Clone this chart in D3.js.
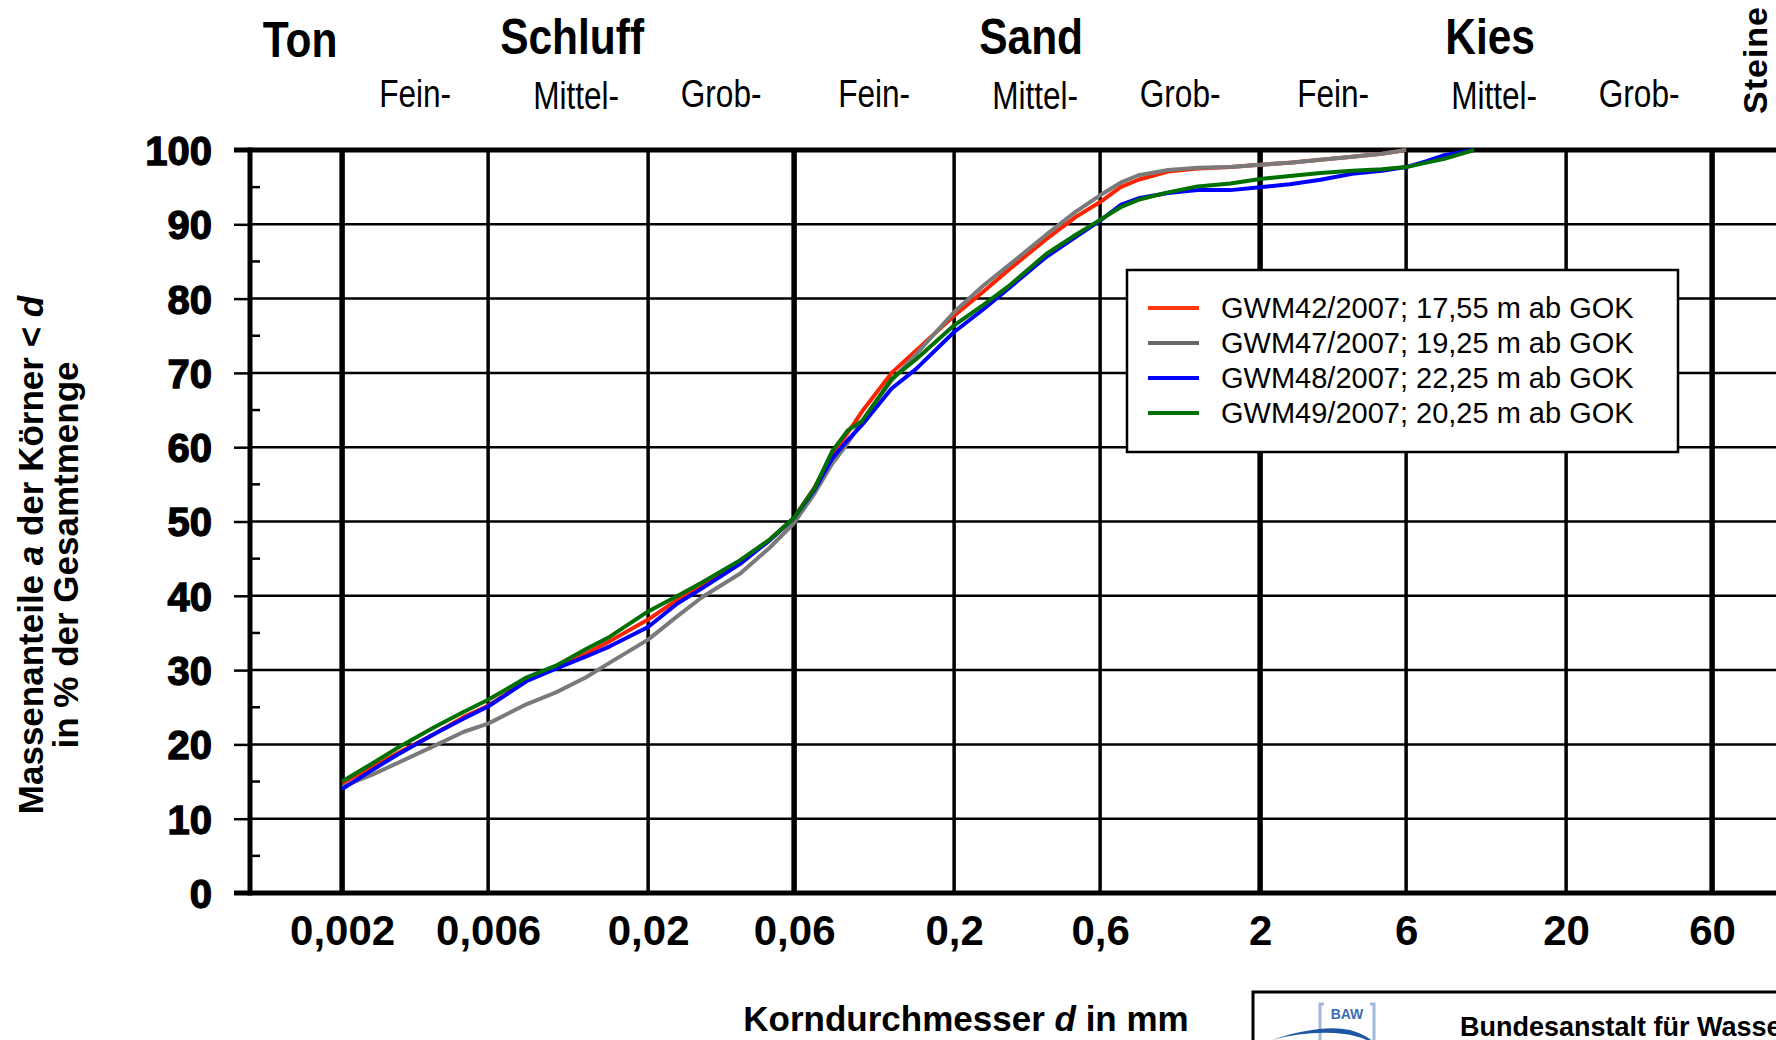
<!DOCTYPE html>
<html>
<head>
  <meta charset="utf-8">
  <script src="https://d3js.org/d3.v7.min.js"></script>
  <style>
    body { margin: 0; background: #fff; }
    svg { display: block; font-family: "Liberation Sans", Arial, sans-serif; }
  </style>
</head>
<body>
<div id="chart"></div>
<script>
// Korndurchmesser d in mm (shared sieve sizes)
const grainSizes = [0.002, 0.0025, 0.003, 0.004, 0.005, 0.006, 0.007, 0.008, 0.01, 0.0125, 0.015,
  0.02, 0.025, 0.03, 0.04, 0.05, 0.06, 0.07, 0.08, 0.09, 0.1, 0.125, 0.15, 0.2, 0.25, 0.3, 0.4,
  0.5, 0.6, 0.7, 0.8, 1, 1.25, 1.6, 2, 2.5, 3.15, 4, 5, 6, 7, 8, 10];

// Massenanteile in % per sample (null = no value)
const gwm42 = [14.8, 16.9, 18.7, 21.4, 23.7, 25.2, 27.0, 28.7, 30.4, 32.2, 33.9,
  36.8, 39.5, 41.4, 44.5, 47.5, 50.5, 54.6, 59.0, 62.0, 64.8, 70.0, 73.0, 77.7, 81.0, 83.8, 88.0,
  91.0, 93.0, 95.0, 96.0, 97.1, 97.5, 97.7, 98.0, 98.3, 98.7, 99.1, 99.5, 100, null, null, null];
const gwm47 = [14.3, 15.9, 17.4, 19.8, 21.7, 22.8, 24.2, 25.4, 27.0, 29.0, 31.0,
  34.1, 37.3, 39.8, 43.0, 46.5, 49.8, 53.8, 57.8, 60.6, 63.5, 69.0, 72.5, 78.2, 81.8, 84.4, 88.6,
  91.7, 93.9, 95.6, 96.6, 97.3, 97.6, 97.7, 98.0, 98.3, 98.7, 99.1, 99.5, 100, null, null, null];
const gwm48 = [14.0, 16.5, 18.5, 21.4, 23.5, 25.1, 26.9, 28.5, 30.2, 31.8, 33.2,
  35.8, 39.0, 41.0, 44.3, 47.5, 50.5, 54.3, 58.5, 61.0, 63.0, 67.9, 70.5, 75.5, 78.6, 81.3, 85.6,
  88.3, 90.5, 92.6, 93.5, 94.2, 94.6, 94.6, 95.0, 95.4, 96.0, 96.8, 97.2, 97.7, 98.5, 99.3, 100];
const gwm49 = [15.0, 17.4, 19.4, 22.3, 24.4, 26.0, 27.6, 29.0, 30.6, 32.8, 34.5,
  37.9, 40.0, 41.8, 44.8, 47.6, 50.5, 54.5, 59.5, 62.3, 63.5, 69.2, 71.8, 76.4, 79.2, 81.6, 86.0,
  88.6, 90.6, 92.3, 93.3, 94.3, 95.1, 95.5, 96.1, 96.5, 96.9, 97.2, 97.4, 97.7, 98.3, 98.8, 100];

const seriesNames = ["GWM42/2007; 17,55 m ab GOK", "GWM47/2007; 19,25 m ab GOK",
  "GWM48/2007; 22,25 m ab GOK", "GWM49/2007; 20,25 m ab GOK"];
const seriesValues = [gwm42, gwm47, gwm48, gwm49];
const seriesColors = ["#ff2200", "#7a7a7a", "#0000ff", "#007000"];
const legendColors = ["#ff3a10", "#686868", "#0000ff", "#007000"];

const xTickValues = [0.002, 0.006, 0.02, 0.06, 0.2, 0.6, 2, 6, 20, 60];
const xTickLabels = ["0,002", "0,006", "0,02", "0,06", "0,2", "0,6", "2", "6", "20", "60"];
const mainBounds = [0.002, 0.06, 2, 60];
const yTickValues = [0, 10, 20, 30, 40, 50, 60, 70, 80, 90, 100];
const yMinorValues = [5, 15, 25, 35, 45, 55, 65, 75, 85, 95];

const mainClasses = ["Ton", "Schluff", "Sand", "Kies"];
const mainRanges = [[0.001, 0.002], [0.002, 0.06], [0.06, 2], [2, 60]];
const subClasses = ["Fein-", "Mittel-", "Grob-", "Fein-", "Mittel-", "Grob-", "Fein-", "Mittel-", "Grob-"];

const W = 1776, H = 1040;
const svg = d3.select("#chart").append("svg")
  .attr("width", W).attr("height", H);

const x = d3.scaleLog().domain([0.001, 100]).range([250, 1780]);
const y = d3.scaleLinear().domain([0, 100]).range([893, 150]);

// horizontal grid
svg.append("g").selectAll("line")
  .data(yTickValues.filter(v => v > 0 && v < 100))
  .join("line")
    .attr("x1", 250).attr("x2", W)
    .attr("y1", d => y(d)).attr("y2", d => y(d))
    .attr("stroke", "#000").attr("stroke-width", 2.5);

// vertical grid
svg.append("g").selectAll("line")
  .data(xTickValues)
  .join("line")
    .attr("x1", d => x(d)).attr("x2", d => x(d))
    .attr("y1", y(100)).attr("y2", y(0))
    .attr("stroke", "#000")
    .attr("stroke-width", d => mainBounds.includes(d) ? 5.5 : 3.5);

// top / bottom frame
svg.append("g").selectAll("line")
  .data([0, 100])
  .join("line")
    .attr("x1", 234).attr("x2", W)
    .attr("y1", d => y(d)).attr("y2", d => y(d))
    .attr("stroke", "#000").attr("stroke-width", 5);

// y axis
const yAxis = svg.append("g")
  .attr("transform", "translate(250,0)")
  .call(d3.axisLeft(y).tickValues(yTickValues).tickSize(16).tickPadding(22));
yAxis.select(".domain").remove();
yAxis.selectAll(".tick line").attr("stroke", "#000").attr("stroke-width", 2.5);
yAxis.selectAll(".tick text")
  .attr("font-family", "'Liberation Sans', Arial, sans-serif")
  .attr("font-size", 40).attr("font-weight", "bold")
  .attr("fill", "#000").attr("stroke", "#000").attr("stroke-width", 1.3)
  .attr("dy", "0.36em");
svg.append("g").selectAll("line")
  .data(yMinorValues)
  .join("line")
    .attr("x1", 250).attr("x2", 260)
    .attr("y1", d => y(d)).attr("y2", d => y(d))
    .attr("stroke", "#000").attr("stroke-width", 2.5);
svg.append("line")
  .attr("x1", 250).attr("x2", 250)
  .attr("y1", y(100) - 2.5).attr("y2", y(0) + 2.5)
  .attr("stroke", "#000").attr("stroke-width", 5);

// x axis labels
const xAxis = svg.append("g")
  .attr("transform", `translate(0,${y(0)})`)
  .call(d3.axisBottom(x).tickValues(xTickValues)
    .tickFormat((d, i) => xTickLabels[i]).tickSize(0).tickPadding(22));
xAxis.select(".domain").remove();
xAxis.selectAll(".tick text")
  .attr("font-family", "'Liberation Sans', Arial, sans-serif")
  .attr("font-size", 42).attr("font-weight", "bold").attr("fill", "#000")
  .attr("dy", "0.71em");

// curves
const line = d3.line()
  .defined(d => d[1] != null)
  .x(d => x(d[0]))
  .y(d => y(d[1]));

svg.append("g").selectAll("path")
  .data(seriesValues)
  .join("path")
    .attr("d", vals => line(grainSizes.map((g, i) => [g, vals[i]])))
    .attr("fill", "none")
    .attr("stroke", (d, i) => seriesColors[i])
    .attr("stroke-width", 4)
    .attr("stroke-linejoin", "round");

// class labels on top
const geo = r => Math.sqrt(r[0] * r[1]);
svg.append("g").selectAll("g")
  .data(mainClasses)
  .join("g")
    .attr("transform", (d, i) => `translate(${x(geo(mainRanges[i])) + 4},${i === 0 ? 57 : 54}) scale(0.85,1)`)
  .append("text")
    .attr("text-anchor", "middle")
    .attr("font-size", 50).attr("font-weight", "bold")
    .text(d => d);

svg.append("g").selectAll("g")
  .data(subClasses)
  .join("g")
    .attr("transform", (d, i) => {
      const r = [xTickValues[i], xTickValues[i + 1]];
      const mid = d === "Mittel-";
      return `translate(${x(geo(r)) + (mid ? 8 : 0)},${mid ? 109 : 107}) scale(0.81,1)`;
    })
  .append("text")
    .attr("text-anchor", "middle")
    .attr("font-size", 39)
    .text(d => d);

svg.append("text")
  .attr("transform", "translate(1767,60) rotate(-90)")
  .attr("text-anchor", "middle")
  .attr("font-size", 34).attr("font-weight", "bold")
  .attr("letter-spacing", 1)
  .text("Steine");

// axis titles
const xt = svg.append("text")
  .attr("x", 966).attr("y", 1031)
  .attr("text-anchor", "middle")
  .attr("font-size", 35).attr("font-weight", "bold");
xt.append("tspan").text("Korndurchmesser ");
xt.append("tspan").attr("font-style", "italic").text("d");
xt.append("tspan").text(" in mm");

const yt1 = svg.append("text")
  .attr("transform", "translate(43,555) rotate(-90)")
  .attr("text-anchor", "middle")
  .attr("font-size", 35).attr("font-weight", "bold");
yt1.append("tspan").text("Massenanteile ");
yt1.append("tspan").attr("font-style", "italic").text("a");
yt1.append("tspan").text(" der Körner < ");
yt1.append("tspan").attr("font-style", "italic").text("d");

svg.append("text")
  .attr("transform", "translate(78,555) rotate(-90)")
  .attr("text-anchor", "middle")
  .attr("font-size", 35).attr("font-weight", "bold")
  .text("in % der Gesamtmenge");

// legend
const legend = svg.append("g").attr("transform", "translate(1127,270)");
legend.append("rect")
  .attr("width", 551).attr("height", 182)
  .attr("fill", "#fff").attr("stroke", "#000").attr("stroke-width", 2.5);
const rows = legend.selectAll("g.row")
  .data(seriesNames)
  .join("g")
    .attr("class", "row")
    .attr("transform", (d, i) => `translate(0,${38 + i * 35})`);
rows.append("line")
  .attr("x1", 21).attr("x2", 72)
  .attr("stroke", (d, i) => legendColors[i]).attr("stroke-width", 4);
rows.append("text")
  .attr("x", 94).attr("y", 10)
  .attr("font-size", 29)
  .text(d => d);

// BAW footer box
const foot = svg.append("g");
foot.append("rect")
  .attr("x", 1253).attr("y", 992).attr("width", 600).attr("height", 120)
  .attr("fill", "#fff").attr("stroke", "#000").attr("stroke-width", 3);
foot.append("path")
  .attr("d", "M1324,1004 h-4 v40 M1370,1004 h4 v40")
  .attr("fill", "none").attr("stroke", "#9fb8dc").attr("stroke-width", 3);
foot.append("text")
  .attr("x", 1347).attr("y", 1019)
  .attr("text-anchor", "middle")
  .attr("font-size", 14).attr("font-weight", "bold").attr("fill", "#3b6db3")
  .text("BAW");
foot.append("path")
  .attr("d", "M1272,1040 Q1320,1024 1350,1030 Q1368,1035 1378,1046 Q1362,1036 1344,1034 Q1310,1030 1272,1040 Z")
  .attr("fill", "#1d56a3");
foot.append("text")
  .attr("x", 1460).attr("y", 1036)
  .attr("font-size", 27).attr("font-weight", "bold")
  .text("Bundesanstalt für Wasserbau");
</script>
</body>
</html>
